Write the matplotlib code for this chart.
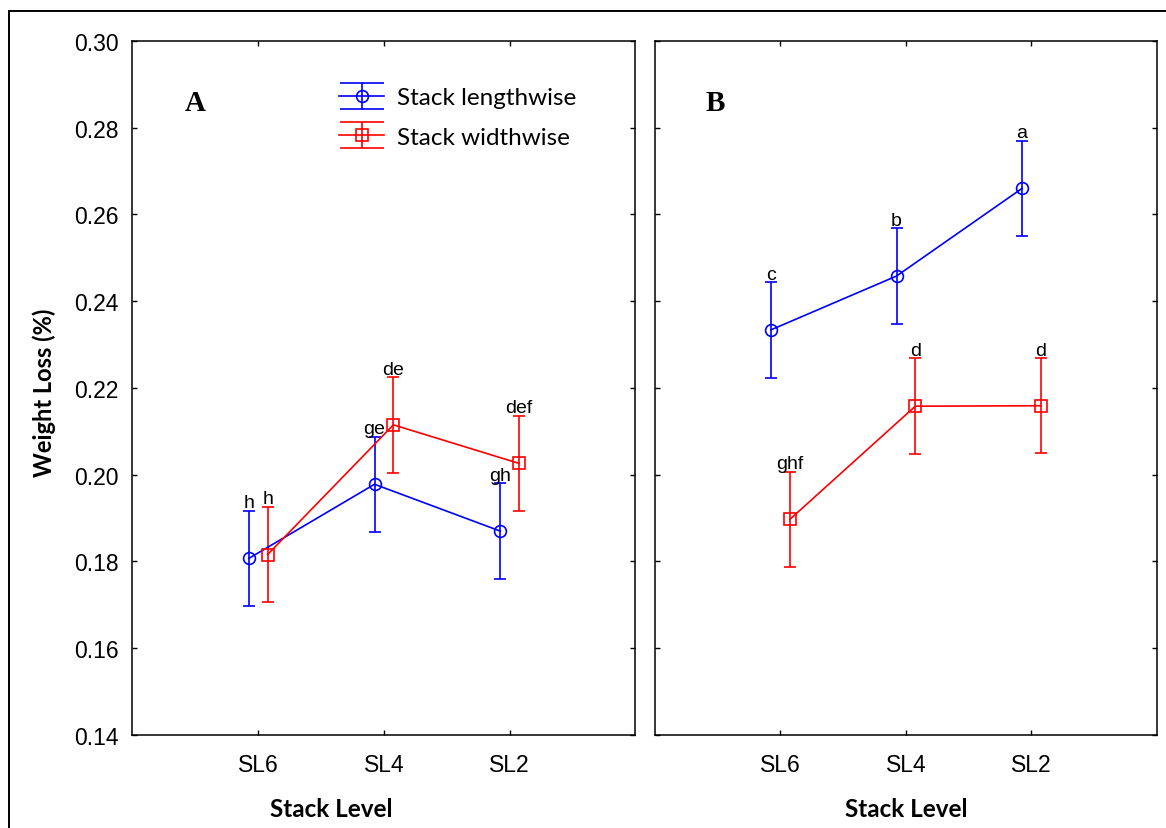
import numpy as np
import matplotlib
matplotlib.use("Agg")
import matplotlib.pyplot as plt
from matplotlib.path import Path
from matplotlib.lines import Line2D
from matplotlib.patches import Rectangle
from matplotlib.legend_handler import HandlerTuple

# data
levels = ['SL6', 'SL4', 'SL2']
a_len = [0.1807, 0.1978, 0.1870]
a_len_err = [0.011, 0.011, 0.011]
a_wid = [0.1816, 0.2115, 0.2026]
a_wid_err = [0.011, 0.011, 0.011]
b_len = [0.2334, 0.2458, 0.2660]
b_len_err = [0.011, 0.011, 0.011]
b_wid = [0.1897, 0.2158, 0.2159]
b_wid_err = [0.011, 0.011, 0.011]
a_len_lab = ['h', 'ge', 'gh']
a_wid_lab = ['h', 'de', 'def']
b_len_lab = ['c', 'b', 'a']
b_wid_lab = ['ghf', 'd', 'd']

blue = '#0000FF'
red = '#FF0000'
sans = ['Liberation Sans', 'DejaVu Sans']
bold_font = ['Lato', 'DejaVu Sans']

fig = plt.figure(figsize=(11.66, 8.29), dpi=100)
axA = fig.add_axes([0.1136, 0.1122, 0.4314, 0.8372])
axB = fig.add_axes([0.5617, 0.1122, 0.4305, 0.8372])

# outer frame, runs off the right and bottom
fig.patches.append(Rectangle((8.5 / 1166, -0.05), 1.2, 1 - 12 / 829 + 0.05,
                             transform=fig.transFigure, fill=False,
                             lw=1.4, ec='black'))

x = np.arange(1, 4)
off = 0.075


def series(ax, xs, ys, es, labs, color, marker):
    ax.errorbar(xs, ys, yerr=es, color=color, marker=marker, ms=8.5,
                mfc='none', mec=color, mew=1.2, lw=1.2, elinewidth=1.2,
                capsize=4.3, capthick=1.2)
    for xi, yi, ei, t in zip(xs, ys, es, labs):
        ax.annotate(t, (xi, yi + ei), xytext=(0, 2.5), textcoords='offset points',
                    ha='center', va='baseline', fontsize=14, family=sans)


series(axA, x - off, a_len, a_len_err, a_len_lab, blue, 'o')
series(axA, x + off, a_wid, a_wid_err, a_wid_lab, red, 's')
series(axB, x - off, b_len, b_len_err, b_len_lab, blue, 'o')
series(axB, x + off, b_wid, b_wid_err, b_wid_lab, red, 's')

for ax in (axA, axB):
    ax.set_xlim(0, 4)
    ax.set_ylim(0.14, 0.30)
    ax.set_xticks(x)
    ax.set_xticklabels(levels, family=sans, fontsize=16.5)
    ax.set_yticks(np.arange(0.14, 0.3001, 0.02))
    ax.tick_params(direction='in', top=True, right=True, length=3.5, width=1)
    ax.tick_params(axis='x', pad=13)
    ax.tick_params(axis='y', pad=10)
    for s in ax.spines.values():
        s.set_linewidth(1.1)

axA.set_yticklabels(['%.2f' % v for v in np.arange(0.14, 0.3001, 0.02)],
                    family=sans, fontsize=16.5)
axB.set_yticklabels([])

axA.text(0.125, 0.911, 'A', transform=axA.transAxes, ha='center', va='center',
         fontsize=21, fontweight='bold', family='Liberation Serif')
axB.text(0.12, 0.911, 'B', transform=axB.transAxes, ha='center', va='center',
         fontsize=21, fontweight='bold', family='Liberation Serif')

# legend glyph: line + marker with a wide-capped error bar
bar = Path([(-1, 0.6), (1, 0.6), (-1, -0.6), (1, -0.6), (0, -0.6), (0, 0.6)],
           [Path.MOVETO, Path.LINETO, Path.MOVETO, Path.LINETO,
            Path.MOVETO, Path.LINETO])
handles = []
for c, m in ((blue, 'o'), (red, 's')):
    caps = Line2D([], [], ls='none', marker=bar, ms=32, mec=c, mew=1.2)
    ln = Line2D([], [], color=c, lw=1.2, marker=m, ms=8.5, mfc='none', mec=c, mew=1.2)
    handles.append((caps, ln))
axA.legend(handles, ['Stack lengthwise', 'Stack widthwise'],
           handler_map={tuple: HandlerTuple(ndivide=1)},
           loc='upper left', bbox_to_anchor=(0.411, 0.933), frameon=False,
           borderpad=0, borderaxespad=0, handlelength=1.85, handletextpad=0.53,
           labelspacing=0.75, prop={'family': bold_font, 'size': 17.5})

fig.text(44 / 1166, 1 - 393 / 829, 'Weight Loss (%)', rotation=90, ha='center',
         va='center', fontsize=17, fontweight='bold', family=bold_font)
fig.text(331 / 1166, 1 - 810 / 829, 'Stack Level', ha='center', va='center',
         fontsize=17.5, fontweight='bold', family=bold_font)
fig.text(906 / 1166, 1 - 810 / 829, 'Stack Level', ha='center', va='center',
         fontsize=17.5, fontweight='bold', family=bold_font)

fig.savefig('out.png', dpi=100)
